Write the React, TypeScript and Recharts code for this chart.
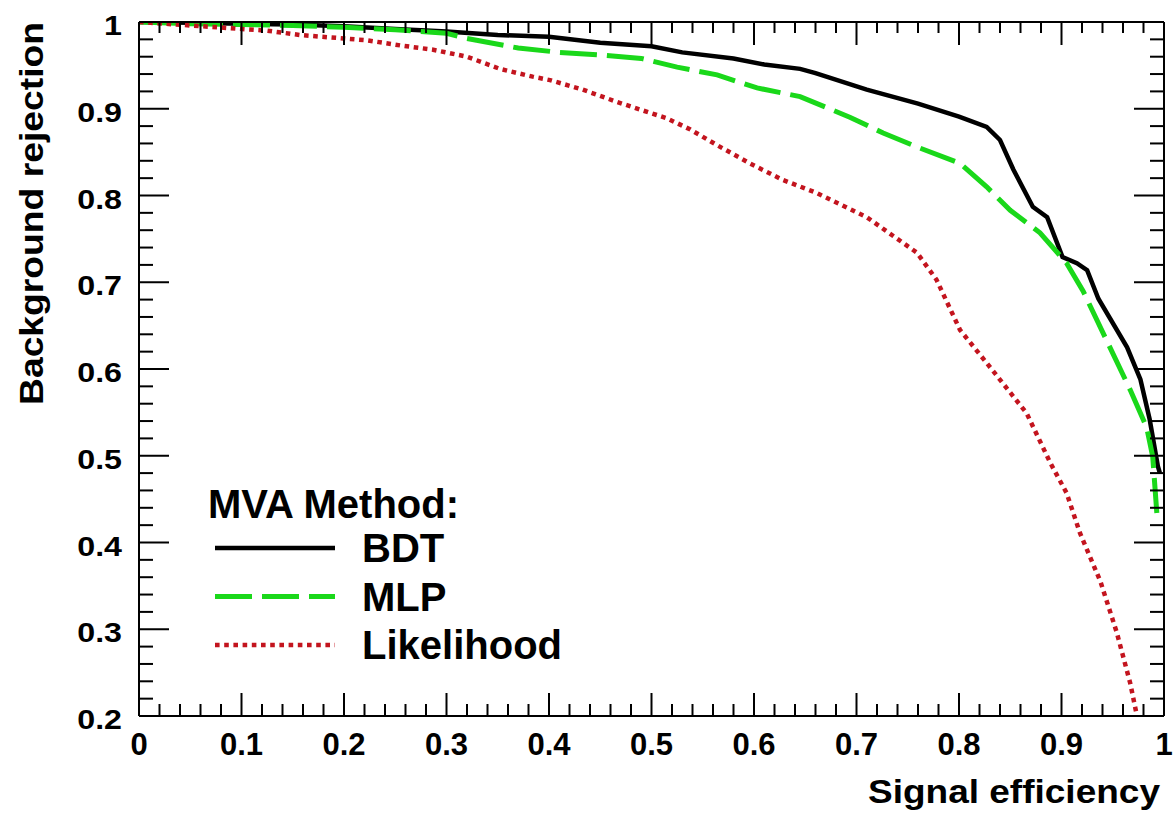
import { LineChart, Line, XAxis, YAxis, Legend, Label } from 'recharts';

// ROC curves: signal efficiency (x) vs background rejection (y)
const bdtX = [0, 0.05, 0.1, 0.15, 0.2, 0.25, 0.3, 0.35, 0.4, 0.45, 0.5, 0.53, 0.58, 0.61, 0.645, 0.66, 0.71, 0.76, 0.8, 0.827, 0.84, 0.853, 0.872, 0.886, 0.901, 0.915, 0.925, 0.936, 0.964, 0.977, 0.986, 0.994, 0.996];
const bdtY = [1.0, 0.999, 0.998, 0.997, 0.995, 0.992, 0.989, 0.985, 0.983, 0.976, 0.972, 0.965, 0.958, 0.951, 0.946, 0.941, 0.922, 0.906, 0.891, 0.879, 0.864, 0.83, 0.787, 0.775, 0.729, 0.722, 0.714, 0.681, 0.625, 0.588, 0.542, 0.488, 0.48];

const mlpX = [0, 0.05, 0.1, 0.15, 0.2, 0.25, 0.3, 0.32, 0.37, 0.41, 0.45, 0.49, 0.525, 0.564, 0.603, 0.645, 0.694, 0.726, 0.759, 0.801, 0.827, 0.85, 0.879, 0.905, 0.921, 0.944, 0.967, 0.983, 0.989, 0.993];
const mlpY = [1.0, 0.998, 0.997, 0.996, 0.994, 0.991, 0.987, 0.981, 0.97, 0.965, 0.962, 0.958, 0.948, 0.939, 0.924, 0.914, 0.89, 0.872, 0.856, 0.837, 0.81, 0.783, 0.757, 0.722, 0.69, 0.633, 0.576, 0.533, 0.499, 0.434];

const likX = [0, 0.05, 0.1, 0.125, 0.157, 0.2, 0.222, 0.255, 0.287, 0.32, 0.352, 0.384, 0.401, 0.433, 0.466, 0.489, 0.515, 0.538, 0.564, 0.596, 0.628, 0.661, 0.71, 0.759, 0.778, 0.801, 0.827, 0.866, 0.889, 0.905, 0.918, 0.938, 0.954, 0.967, 0.975, 0.978];
const likY = [1.0, 0.996, 0.992, 0.99, 0.985, 0.981, 0.979, 0.973, 0.968, 0.96, 0.946, 0.937, 0.933, 0.922, 0.908, 0.899, 0.889, 0.876, 0.858, 0.837, 0.818, 0.803, 0.775, 0.734, 0.703, 0.645, 0.607, 0.549, 0.492, 0.457, 0.411, 0.355, 0.296, 0.238, 0.192, 0.17];

const xMajor = [0, 0.1, 0.2, 0.3, 0.4, 0.5, 0.6, 0.7, 0.8, 0.9, 1];
const yMajor = [0.2, 0.3, 0.4, 0.5, 0.6, 0.7, 0.8, 0.9, 1];
const MINOR_DIV = 5;

const FONT = '"Liberation Sans", Arial, Helvetica, sans-serif';

const zip = (xs: number[], ys: number[]) => xs.map((x, i) => ({ x, y: ys[i] }));

const SERIES = [
  { name: 'BDT', data: zip(bdtX, bdtY), color: '#000000', width: 4.5, dash: undefined as string | undefined },
  { name: 'MLP', data: zip(mlpX, mlpY), color: '#1ad81a', width: 5, dash: '37 10' },
  { name: 'Likelihood', data: zip(likX, likY), color: '#c3141e', width: 4.5, dash: '4.6 4.6' },
];

// major ticks plus minor subdivisions between them
const withMinor = (major: number[]) => {
  const out: number[] = [];
  for (let i = 0; i < major.length - 1; i++) {
    const step = (major[i + 1] - major[i]) / MINOR_DIV;
    for (let k = 0; k < MINOR_DIV; k++) out.push(+(major[i] + k * step).toFixed(4));
  }
  out.push(major[major.length - 1]);
  return out;
};
const xTicks = withMinor(xMajor);
const yTicks = withMinor(yMajor);

const isMajor = (v: number) => Math.abs(v * 10 - Math.round(v * 10)) < 1e-6;
const fmt = (v: number) => String(Math.round(v * 10) / 10);

const BottomTick = ({ x, y, payload }: any) => {
  const major = isMajor(payload.value);
  return (
    <g>
      <line x1={x} x2={x} y1={y} y2={y - (major ? 23 : 12)} stroke="#000" strokeWidth={2} />
      {major && (
        <text x={x} y={y + 39} textAnchor="middle" fontFamily={FONT} fontWeight="bold" fontSize={31} fill="#000">
          {fmt(payload.value)}
        </text>
      )}
    </g>
  );
};

const TopTick = ({ x, y, payload }: any) => {
  const major = isMajor(payload.value);
  return <line x1={x} x2={x} y1={y} y2={y + (major ? 23 : 11)} stroke="#000" strokeWidth={2} />;
};

const LeftTick = ({ x, y, payload }: any) => {
  const major = isMajor(payload.value);
  return (
    <g>
      <line x1={x} x2={x + (major ? 30 : 14)} y1={y} y2={y} stroke="#000" strokeWidth={2} />
      {major && (
        <text
          transform={`translate(${x - 17},${y + 13}) scale(1.15,1)`}
          textAnchor="end"
          fontFamily={FONT}
          fontWeight="bold"
          fontSize={28}
          fill="#000"
        >
          {fmt(payload.value)}
        </text>
      )}
    </g>
  );
};

const RightTick = ({ x, y, payload }: any) => {
  const major = isMajor(payload.value);
  return <line x1={x} x2={x - (major ? 30 : 14)} y1={y} y2={y} stroke="#000" strokeWidth={2} />;
};

const LegendBox = () => (
  <svg width={1174} height={816} style={{ position: 'absolute', left: 0, top: 0 }}>
    <text x={208} y={518} fontFamily={FONT} fontWeight="bold" fontSize={40} fill="#000">
      MVA Method:
    </text>
    {SERIES.map((s, i) => {
      const ly = 548 + i * 48.5;
      return (
        <g key={s.name}>
          <line x1={215} x2={335} y1={ly} y2={ly} stroke={s.color} strokeWidth={s.width} strokeDasharray={s.dash} />
          <text x={362} y={ly + 14} fontFamily={FONT} fontWeight="bold" fontSize={40} fill="#000">
            {s.name}
          </text>
        </g>
      );
    })}
  </svg>
);

const axisLine = { stroke: '#000', strokeWidth: 2 };

export default function App() {
  return (
    <div style={{ position: 'absolute', left: 0, top: 0, width: 1174, height: 816, background: '#fff' }}>
      <LineChart width={1174} height={816} margin={{ top: 21, right: 0, bottom: 0, left: 0 }}>
        <XAxis
          xAxisId="bottom"
          type="number"
          dataKey="x"
          domain={[0, 1]}
          allowDataOverflow
          ticks={xTicks}
          interval={0}
          height={100}
          tickSize={0}
          tickMargin={0}
          tickLine={false}
          axisLine={axisLine}
          tick={(p: any) => <BottomTick {...p} />}
        >
          <Label
            content={() => (
              <text
                x={1160}
                y={803}
                textAnchor="end"
                fontFamily={FONT}
                fontWeight="bold"
                fontSize={34}
                textLength={292}
                lengthAdjust="spacingAndGlyphs"
                fill="#000"
              >
                Signal efficiency
              </text>
            )}
          />
        </XAxis>
        <XAxis
          xAxisId="top"
          orientation="top"
          type="number"
          dataKey="x"
          domain={[0, 1]}
          allowDataOverflow
          ticks={xTicks}
          interval={0}
          height={1}
          tickSize={0}
          tickMargin={0}
          tickLine={false}
          axisLine={axisLine}
          tick={(p: any) => <TopTick {...p} />}
        />
        <YAxis
          yAxisId="left"
          type="number"
          domain={[0.2, 1]}
          allowDataOverflow
          ticks={yTicks}
          interval={0}
          width={139}
          tickSize={0}
          tickMargin={0}
          tickLine={false}
          axisLine={axisLine}
          tick={(p: any) => <LeftTick {...p} />}
        >
          <Label
            content={() => (
              <text
                transform="rotate(-90)"
                x={-22}
                y={43}
                textAnchor="end"
                fontFamily={FONT}
                fontWeight="bold"
                fontSize={34}
                textLength={383}
                lengthAdjust="spacingAndGlyphs"
                fill="#000"
              >
                Background rejection
              </text>
            )}
          />
        </YAxis>
        <YAxis
          yAxisId="right"
          orientation="right"
          type="number"
          domain={[0.2, 1]}
          allowDataOverflow
          ticks={yTicks}
          interval={0}
          width={10}
          tickSize={0}
          tickMargin={0}
          tickLine={false}
          axisLine={axisLine}
          tick={(p: any) => <RightTick {...p} />}
        />
        {SERIES.map((s) => (
          <Line
            key={s.name}
            xAxisId="bottom"
            yAxisId="left"
            data={s.data}
            dataKey="y"
            name={s.name}
            type="linear"
            stroke={s.color}
            strokeWidth={s.width}
            strokeDasharray={s.dash}
            dot={false}
            activeDot={false}
            isAnimationActive={false}
          />
        ))}
        <Legend
          layout="horizontal"
          verticalAlign="middle"
          align="center"
          wrapperStyle={{ position: 'absolute', left: 0, top: 0, width: 1174, height: 816, pointerEvents: 'none' }}
          content={() => <LegendBox />}
        />
      </LineChart>
    </div>
  );
}
